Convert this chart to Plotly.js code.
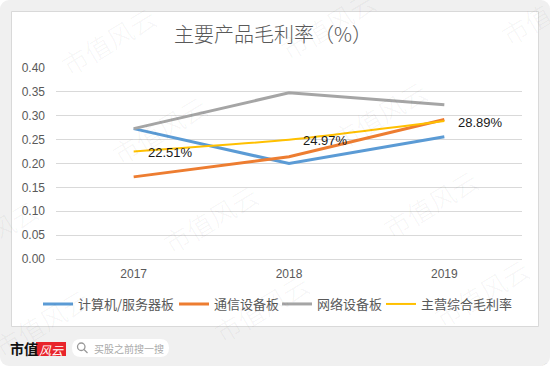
<!DOCTYPE html>
<html><head><meta charset="utf-8">
<script src="https://cdn.plot.ly/plotly-3.0.1.min.js"></script>
<style>html,body{margin:0;padding:0;background:#fff;}#wrap{width:550px;height:366px;border-radius:9px;overflow:hidden;}#chart{width:550px;height:366px;}</style>
</head><body><div id="wrap"><div id="chart"></div></div>
<script>
// ---- data ----
const years = ['2017', '2018', '2019'];
const seriesNames = ['计算机/服务器板', '通信设备板', '网络设备板', '主营综合毛利率'];
const computerBoard = [0.273, 0.200, 0.256];
const telecomBoard = [0.172, 0.214, 0.292];
const networkBoard = [0.273, 0.348, 0.323];
const overallPct = [22.51, 24.97, 28.89];
const yTickVals = [0, 0.05, 0.10, 0.15, 0.20, 0.25, 0.30, 0.35, 0.40];
const yTickText = ['0.00', '0.05', '0.10', '0.15', '0.20', '0.25', '0.30', '0.35', '0.40'];
const titleText = '主要产品毛利率（%）';
const watermarkText = '市值风云';

// ---- layout helpers ----
const W = 550, H = 366, ML = 56, MR = 28, MT = 68, MB = 107;
const PW = W - ML - MR, PH = H - MT - MB;
const fx = x => (x - ML) / PW;
const fy = y => (H - MB - y) / PH;
const FAM = 'Liberation Sans, Noto Sans CJK SC, sans-serif';
const CJK = 'Noto Sans CJK SC, sans-serif';
const GREY = '#595959';

function roundRect(x0, y0, x1, y1, r) {
  const p = (x, y) => fx(x) + ',' + fy(y);
  return 'M' + p(x0 + r, y0) + ' L' + p(x1 - r, y0) + ' Q' + p(x1, y0) + ' ' + p(x1, y0 + r) +
    ' L' + p(x1, y1 - r) + ' Q' + p(x1, y1) + ' ' + p(x1 - r, y1) +
    ' L' + p(x0 + r, y1) + ' Q' + p(x0, y1) + ' ' + p(x0, y1 - r) +
    ' L' + p(x0, y0 + r) + ' Q' + p(x0, y0) + ' ' + p(x0 + r, y0) + ' Z';
}

const colors = ['#5B9BD5', '#ED7D31', '#A5A5A5', '#FFC000'];
const widths = [3, 3, 3, 2];
const values = [computerBoard, telecomBoard, networkBoard, overallPct.map(v => v / 100)];
const legendIds = ['legend', 'legend2', 'legend3', 'legend4'];
const legendStarts = [43, 179, 282, 386];

const traces = values.map((vals, i) => ({
  type: 'scatter', mode: 'lines', x: years, y: vals, name: seriesNames[i],
  legend: legendIds[i], showlegend: true,
  line: { color: colors[i], width: widths[i], shape: i === 3 ? 'spline' : 'linear', smoothing: 0.6 },
  hoverinfo: 'skip'
}));

const annotations = [];
// data labels for overall margin (category index positions on the category axis)
overallPct.forEach((v, i) => {
  annotations.push({
    x: years.indexOf(years[i]), y: v / 100, xref: 'x', yref: 'y', text: v.toFixed(2) + '%',
    showarrow: false, xanchor: 'left', yanchor: 'middle', xshift: 12, yshift: -1,
    font: { family: FAM, size: 13, color: '#1a1a1a' }
  });
});
// watermarks
const wmPos = [[108, 40], [159, 129], [210, 218], [261, 307], [312, 396], [328, 25], [379, 114], [430, 203], [481, 292], [532, 381], [548, 10], [599, 99], [-10, 233], [41, 322]];
wmPos.forEach(([x, y]) => annotations.push({
  x: fx(x), y: fy(y), xref: 'paper', yref: 'paper', text: watermarkText, showarrow: false,
  textangle: -31, xanchor: 'center', yanchor: 'middle',
  font: { family: CJK, size: 26, color: 'rgba(0,0,0,0.05)', weight: 300 }
}));
// bottom bar
annotations.push({ x: fx(23.5), y: fy(348), xref: 'paper', yref: 'paper', text: '<b>市值</b>', showarrow: false,
  xanchor: 'center', yanchor: 'middle', font: { family: CJK, size: 14, color: '#111' } });
annotations.push({ x: fx(51), y: fy(349), xref: 'paper', yref: 'paper', text: '<i>风云</i>', showarrow: false,
  xanchor: 'center', yanchor: 'middle', font: { family: CJK, size: 12, color: '#fff' } });
annotations.push({ x: fx(92), y: fy(348), xref: 'paper', yref: 'paper', text: '买股之前搜一搜', showarrow: false,
  xanchor: 'left', yanchor: 'middle', font: { family: CJK, size: 10, color: '#aaaaaa' } });

const shapes = [
  { type: 'rect', xref: 'paper', yref: 'paper', x0: fx(11.5), x1: fx(538.5), y0: fy(11.5), y1: fy(326.5),
    fillcolor: '#ffffff', line: { color: '#d9d9d9', width: 1 }, layer: 'below' },
  { type: 'rect', xref: 'paper', yref: 'paper', x0: fx(36), x1: fx(66), y0: fy(342), y1: fy(356),
    fillcolor: '#e8242b', line: { width: 0 }, layer: 'below' },
  { type: 'path', xref: 'paper', yref: 'paper', path: roundRect(72, 339, 169, 357, 9),
    fillcolor: '#ffffff', line: { width: 0 }, layer: 'below' },
  { type: 'circle', xref: 'paper', yref: 'paper', x0: fx(77.5), x1: fx(85), y0: fy(343), y1: fy(350.5),
    line: { color: '#999', width: 1.3 }, layer: 'below' },
  { type: 'line', xref: 'paper', yref: 'paper', x0: fx(84), x1: fx(87.5), y0: fy(349.5), y1: fy(353),
    line: { color: '#999', width: 1.3 }, layer: 'below' }
];

const layout = {
  width: W, height: H, showlegend: true,
  margin: { l: ML, r: MR, t: MT, b: MB },
  paper_bgcolor: '#f0f0f0', plot_bgcolor: 'rgba(0,0,0,0)',
  title: { text: titleText, font: { family: CJK, size: 20, color: GREY, weight: 300 },
    x: 273 / W, xref: 'container', xanchor: 'center', y: 1 - 35 / H, yref: 'container', yanchor: 'middle' },
  xaxis: { type: 'category', range: [-0.5, 2.5], showgrid: false, zeroline: false, showline: false, ticks: '',
    tickfont: { family: FAM, size: 12, color: GREY }, ticklabelstandoff: 6, fixedrange: true },
  yaxis: { range: [0, 0.4], tickvals: yTickVals, ticktext: yTickText, showgrid: true, gridcolor: '#d9d9d9', gridwidth: 1,
    zeroline: true, zerolinecolor: '#d9d9d9', zerolinewidth: 1, showline: false, ticks: '',
    tickfont: { family: FAM, size: 12, color: GREY }, ticklabelstandoff: 10, fixedrange: true },
  annotations: annotations,
  shapes: shapes,
  hovermode: false
};
legendIds.forEach((id, i) => {
  layout[id] = { visible: true, orientation: 'h', xref: 'container', yref: 'container', x: (legendStarts[i] - 5) / W, xanchor: 'left',
    y: 1 - 304 / H, yanchor: 'middle', bgcolor: 'rgba(0,0,0,0)', borderwidth: 0,
    font: { family: CJK, size: 13, color: GREY } };
});

Plotly.newPlot('chart', traces, layout, { displayModeBar: false, staticPlot: true });
</script></body></html>
